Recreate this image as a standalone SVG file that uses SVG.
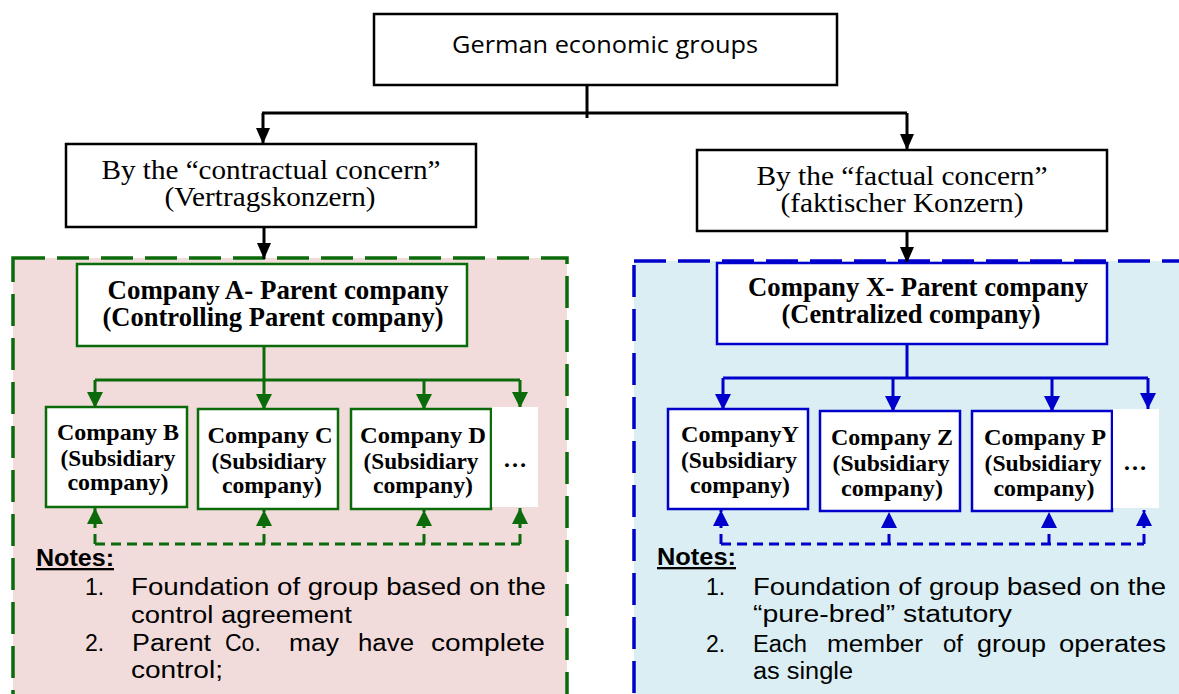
<svg xmlns="http://www.w3.org/2000/svg" width="1179" height="694" viewBox="0 0 1179 694">
  <style>
    .kbox{fill:#fff;stroke:#000;stroke-width:2.5}
    .gbox{fill:#fff;stroke:#0b6b0b;stroke-width:2.5}
    .bbox{fill:#fff;stroke:#0000cc;stroke-width:2.5}
    .serif{font-family:"Liberation Serif","Times New Roman",serif;fill:#000;text-anchor:middle}
    .sb{font-family:"Liberation Serif","Times New Roman",serif;font-weight:bold;fill:#000;text-anchor:middle}
    .sans{font-family:"Open Sans",Lato,sans-serif;fill:#000;font-size:24px}
    .note{font-family:"Liberation Sans",Arial,sans-serif;fill:#000;font-size:23px}
    .kline{fill:none;stroke:#000;stroke-width:3}
    .gline{fill:none;stroke:#0b6b0b;stroke-width:3}
    .bline{fill:none;stroke:#0000cc;stroke-width:3}
    .gdash{fill:none;stroke:#0b6b0b;stroke-width:3;stroke-dasharray:10 6}
    .bdash{fill:none;stroke:#0000cc;stroke-width:3;stroke-dasharray:10 6}
  </style>
  <defs>
    <marker id="ah-k" markerUnits="userSpaceOnUse" markerWidth="16" markerHeight="14" refX="16" refY="7" orient="auto">
      <path d="M0,0 L16,7 L0,14 z" fill="#000"/>
    </marker>
    <marker id="ah-g" markerUnits="userSpaceOnUse" markerWidth="16" markerHeight="16" refX="16" refY="8" orient="auto">
      <path d="M0,0 L16,8 L0,16 z" fill="#0b6b0b"/>
    </marker>
    <marker id="ah-b" markerUnits="userSpaceOnUse" markerWidth="16" markerHeight="16" refX="16" refY="8" orient="auto">
      <path d="M0,0 L16,8 L0,16 z" fill="#0000cc"/>
    </marker>
  </defs>

  <rect width="1179" height="694" fill="#fff"/>

  <!-- shaded group panels -->
  <g id="panel-contractual">
    <rect x="13" y="258" width="554" height="470" fill="#f2dcdb" stroke="#0b6b0b" stroke-width="3.5" stroke-dasharray="32 12"/>
  </g>
  <g id="panel-factual">
    <rect x="634" y="261" width="560" height="470" fill="#daeef3" stroke="#0000cc" stroke-width="3.5" stroke-dasharray="32 12"/>
  </g>

  <!-- connectors -->
  <g id="connectors">
    <path class="kline" d="M587,85 V118"/>
    <path class="kline" d="M262,113 H907" stroke-width="4"/>
    <path class="kline" d="M263,113 V144" marker-end="url(#ah-k)"/>
    <path class="kline" d="M907,113 V150" marker-end="url(#ah-k)"/>
    <path class="kline" d="M264,227 V259" marker-end="url(#ah-k)"/>
    <path class="kline" d="M907,231 V263" marker-end="url(#ah-k)"/>

    <path class="gline" d="M264,346 V380"/>
    <path class="gline" d="M95,380 H520"/>
    <path class="gline" d="M95,380 V408" marker-end="url(#ah-g)"/>
    <path class="gline" d="M264,380 V410" marker-end="url(#ah-g)"/>
    <path class="gline" d="M424,380 V410" marker-end="url(#ah-g)"/>
    <path class="gline" d="M520,380 V408" marker-end="url(#ah-g)"/>

    <path class="gdash" d="M95,544 H520"/>
    <path class="gdash" d="M95,544 V508" marker-end="url(#ah-g)"/>
    <path class="gdash" d="M264,544 V510" marker-end="url(#ah-g)"/>
    <path class="gdash" d="M424,544 V510" marker-end="url(#ah-g)"/>
    <path class="gdash" d="M520,544 V508" marker-end="url(#ah-g)"/>

    <path class="bline" d="M907,345 V378"/>
    <path class="bline" d="M723,378 H1148"/>
    <path class="bline" d="M723,378 V410" marker-end="url(#ah-b)"/>
    <path class="bline" d="M893,378 V412" marker-end="url(#ah-b)"/>
    <path class="bline" d="M1052,378 V412" marker-end="url(#ah-b)"/>
    <path class="bline" d="M1148,378 V409" marker-end="url(#ah-b)"/>

    <path class="bdash" d="M721,544 H1144"/>
    <path class="bdash" d="M721,544 V510" marker-end="url(#ah-b)"/>
    <path class="bdash" d="M889,544 V512" marker-end="url(#ah-b)"/>
    <path class="bdash" d="M1049,544 V512" marker-end="url(#ah-b)"/>
    <path class="bdash" d="M1144,544 V510" marker-end="url(#ah-b)"/>
  </g>

  <!-- top level -->
  <g id="node-german-groups">
    <rect class="kbox" x="374" y="14" width="463" height="71"/>
    <text class="sans" x="605" y="53" text-anchor="middle" textLength="306" lengthAdjust="spacingAndGlyphs">German economic groups</text>
  </g>

  <g id="node-contractual">
    <rect class="kbox" x="66" y="144" width="410" height="83"/>
    <text class="serif" font-size="28"><tspan x="271" y="179" textLength="339" lengthAdjust="spacingAndGlyphs">By the “contractual concern”</tspan><tspan x="270" y="206" textLength="211" lengthAdjust="spacingAndGlyphs">(Vertragskonzern)</tspan></text>
  </g>

  <g id="node-factual">
    <rect class="kbox" x="697" y="150" width="410" height="81"/>
    <text class="serif" font-size="28"><tspan x="902" y="185" textLength="291" lengthAdjust="spacingAndGlyphs">By the “factual concern”</tspan><tspan x="902" y="212" textLength="243" lengthAdjust="spacingAndGlyphs">(faktischer Konzern)</tspan></text>
  </g>

  <!-- contractual concern group -->
  <g id="node-company-a">
    <rect class="gbox" x="77" y="264" width="390" height="82"/>
    <text class="sb" font-size="28"><tspan x="278" y="299" textLength="341" lengthAdjust="spacingAndGlyphs">Company A- Parent company</tspan><tspan x="273" y="326" textLength="341" lengthAdjust="spacingAndGlyphs">(Controlling Parent company)</tspan></text>
  </g>

  <g id="node-company-b">
    <rect class="gbox" x="46" y="407" width="141" height="100"/>
    <text class="sb" font-size="24"><tspan x="118" y="440" textLength="122" lengthAdjust="spacingAndGlyphs">Company B</tspan><tspan x="118" y="466" textLength="115" lengthAdjust="spacingAndGlyphs">(Subsidiary</tspan><tspan x="118" y="490" textLength="101" lengthAdjust="spacingAndGlyphs">company)</tspan></text>
  </g>
  <g id="node-company-c">
    <rect class="gbox" x="198" y="409" width="140" height="100"/>
    <text class="sb" font-size="24"><tspan x="270" y="443" textLength="125" lengthAdjust="spacingAndGlyphs">Company C</tspan><tspan x="269" y="469" textLength="115" lengthAdjust="spacingAndGlyphs">(Subsidiary</tspan><tspan x="272" y="493" textLength="100" lengthAdjust="spacingAndGlyphs">company)</tspan></text>
  </g>
  <g id="node-company-d">
    <rect class="gbox" x="351" y="409" width="140" height="100"/>
    <text class="sb" font-size="24"><tspan x="423" y="443" textLength="126" lengthAdjust="spacingAndGlyphs">Company D</tspan><tspan x="421" y="469" textLength="115" lengthAdjust="spacingAndGlyphs">(Subsidiary</tspan><tspan x="423" y="493" textLength="100" lengthAdjust="spacingAndGlyphs">company)</tspan></text>
  </g>
  <g id="node-more-left">
    <rect x="492" y="407" width="46" height="100" fill="#fff"/>
    <text class="sb" x="515" y="467" font-size="24">…</text>
  </g>

  <g id="notes-contractual">
    <text class="note" x="36" y="566" font-weight="bold" text-decoration="underline" textLength="78" lengthAdjust="spacingAndGlyphs">Notes:</text>
    <text class="note"><tspan x="85" y="595">1.</tspan><tspan x="131" y="595" textLength="415" lengthAdjust="spacingAndGlyphs">Foundation of group based on the</tspan><tspan x="131" y="623" textLength="221" lengthAdjust="spacingAndGlyphs">control agreement</tspan></text>
    <text class="note"><tspan x="85" y="651">2.</tspan><tspan x="132" y="651" textLength="79" lengthAdjust="spacingAndGlyphs">Parent</tspan><tspan x="225" y="651">Co.</tspan><tspan x="289" y="651" textLength="50" lengthAdjust="spacingAndGlyphs">may</tspan><tspan x="358" y="651" textLength="56" lengthAdjust="spacingAndGlyphs">have</tspan><tspan x="431" y="651" textLength="114" lengthAdjust="spacingAndGlyphs">complete</tspan><tspan x="131" y="678" textLength="92" lengthAdjust="spacingAndGlyphs">control;</tspan></text>
  </g>

  <!-- factual concern group -->
  <g id="node-company-x">
    <rect class="bbox" x="717" y="263" width="390" height="81"/>
    <text class="sb" font-size="28"><tspan x="918" y="296" textLength="340" lengthAdjust="spacingAndGlyphs">Company X- Parent company</tspan><tspan x="911" y="323" textLength="259" lengthAdjust="spacingAndGlyphs">(Centralized company)</tspan></text>
  </g>

  <g id="node-company-y">
    <rect class="bbox" x="668" y="409" width="140" height="100"/>
    <text class="sb" font-size="24"><tspan x="740" y="442" textLength="118" lengthAdjust="spacingAndGlyphs">CompanyY</tspan><tspan x="739" y="468" textLength="116" lengthAdjust="spacingAndGlyphs">(Subsidiary</tspan><tspan x="740" y="493" textLength="100" lengthAdjust="spacingAndGlyphs">company)</tspan></text>
  </g>
  <g id="node-company-z">
    <rect class="bbox" x="820" y="411" width="140" height="100"/>
    <text class="sb" font-size="24"><tspan x="892" y="445" textLength="122" lengthAdjust="spacingAndGlyphs">Company Z</tspan><tspan x="891" y="471" textLength="117" lengthAdjust="spacingAndGlyphs">(Subsidiary</tspan><tspan x="892" y="496" textLength="102" lengthAdjust="spacingAndGlyphs">company)</tspan></text>
  </g>
  <g id="node-company-p">
    <rect class="bbox" x="972" y="411" width="140" height="100"/>
    <text class="sb" font-size="24"><tspan x="1045" y="445" textLength="122" lengthAdjust="spacingAndGlyphs">Company P</tspan><tspan x="1043" y="471" textLength="117" lengthAdjust="spacingAndGlyphs">(Subsidiary</tspan><tspan x="1044" y="496" textLength="101" lengthAdjust="spacingAndGlyphs">company)</tspan></text>
  </g>
  <g id="node-more-right">
    <rect x="1113" y="409" width="46" height="99" fill="#fff"/>
    <text class="sb" x="1135" y="470" font-size="24">…</text>
  </g>

  <g id="notes-factual">
    <text class="note" x="657" y="565" font-weight="bold" text-decoration="underline" textLength="79" lengthAdjust="spacingAndGlyphs">Notes:</text>
    <text class="note"><tspan x="706" y="595">1.</tspan><tspan x="753" y="595" textLength="413" lengthAdjust="spacingAndGlyphs">Foundation of group based on the</tspan><tspan x="753" y="622" textLength="259" lengthAdjust="spacingAndGlyphs">“pure-bred” statutory</tspan></text>
    <text class="note"><tspan x="706" y="652">2.</tspan><tspan x="753" y="652" textLength="54" lengthAdjust="spacingAndGlyphs">Each</tspan><tspan x="827" y="652" textLength="96" lengthAdjust="spacingAndGlyphs">member</tspan><tspan x="943" y="652" textLength="20" lengthAdjust="spacingAndGlyphs">of</tspan><tspan x="977" y="652" textLength="69" lengthAdjust="spacingAndGlyphs">group</tspan><tspan x="1059" y="652" textLength="107" lengthAdjust="spacingAndGlyphs">operates</tspan><tspan x="753" y="679" textLength="100" lengthAdjust="spacingAndGlyphs">as single</tspan></text>
  </g>
</svg>
